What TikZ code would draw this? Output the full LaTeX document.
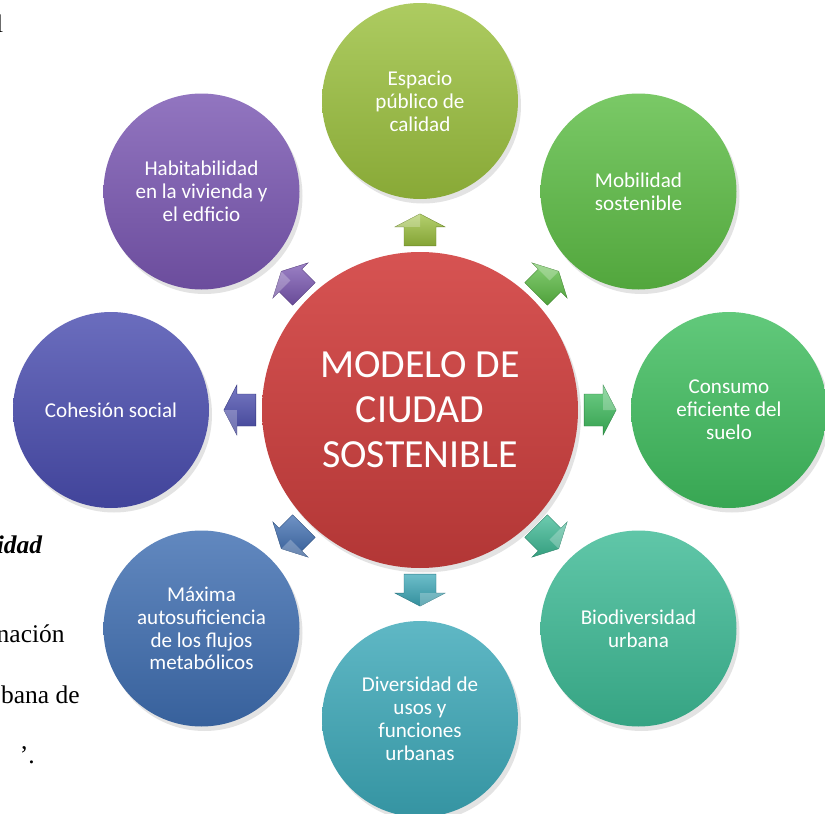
\documentclass[tikz,border=0pt]{standalone}
\usepackage{fontspec}
\setmainfont{Liberation Serif}
\newfontfamily\carlito{Carlito}
\usetikzlibrary{shadows,calc}

\definecolor{rojo}{HTML}{D2403F}
\definecolor{oliva}{HTML}{9BC03E}
\definecolor{verde}{HTML}{5DBD45}
\definecolor{esmeralda}{HTML}{3FBD5E}
\definecolor{turquesa}{HTML}{3DBA95}
\definecolor{cian}{HTML}{3CA8B8}
\definecolor{azul}{HTML}{3F6EB1}
\definecolor{indigo}{HTML}{4A4DAF}
\definecolor{morado}{HTML}{7A57B2}

\tikzset{
  bubble/.style={circle, minimum size=3.92cm, inner sep=0pt, text=white, align=center,
    font=\carlito\fontsize{12}{13}\selectfont,
    top color=#1!82!white, bottom color=#1!88!black,
    drop shadow={opacity=0.22, shadow xshift=0.06cm, shadow yshift=-0.09cm}},
  hub/.style={circle, minimum size=6.32cm, inner sep=0pt, text=white, align=center,
    font=\carlito\fontsize{22.7}{25.6}\selectfont,
    top color=#1!90!white, bottom color=#1!85!black,
    drop shadow={opacity=0.22, shadow xshift=0.06cm, shadow yshift=-0.09cm}},
  margin/.style={anchor=base east, font=\fontsize{14.5}{17}\selectfont, inner sep=0pt},
  pics/flecha/.style={code={
    \path[top color=#1!75!white, bottom color=#1!85!black, draw=#1!70!black, line width=0.2pt]
      (-0.32,-0.32) -- (0.06,-0.32) -- (0.06,-0.5) -- (0.32,0) -- (0.06,0.5)
      -- (0.06,0.32) -- (-0.32,0.32) -- cycle;
    \path[fill=white, fill opacity=0.25] (0.06,0) -- (0.06,0.5) -- (0.32,0) -- cycle;
  }}
}

\begin{document}
\begin{tikzpicture}
  \useasboundingbox[fill=white] (0,0) rectangle (16.5,-16.28);

  \node[margin] (m1) at (0.07,-0.64) {l};
  \node[margin, font=\fontsize{14.5}{17}\selectfont\bfseries\itshape] (m2) at (0.85,-11.06) {idad};
  \node[margin] (m3) at (1.3,-12.84) {nación};
  \node[margin] (m4) at (1.6,-14.06) {bana de};
  \node[margin] (m5) at (0.7,-15.26) {’.};

  \node[bubble=oliva] (espacio) at (8.4,-2.02) {Espacio\\público de\\calidad};
  \node[bubble=verde] (movilidad) at (12.77,-3.83) {Mobilidad\\sostenible};
  \node[bubble=esmeralda] (consumo) at (14.58,-8.2) {Consumo\\eficiente del\\suelo};
  \node[bubble=turquesa] (biodiversidad) at (12.77,-12.57) {Biodiversidad\\urbana};
  \node[bubble=cian] (diversidad) at (8.4,-14.38) {Diversidad de\\usos y\\funciones\\urbanas};
  \node[bubble=azul] (maxima) at (4.03,-12.57) {Máxima\\autosuficiencia\\de los flujos\\metabólicos};
  \node[bubble=indigo] (cohesion) at (2.22,-8.2) {Cohesión social};
  \node[bubble=morado] (habitabilidad) at (4.03,-3.83) {Habitabilidad\\en la vivienda y\\el edficio};

  \node[hub=rojo] (centro) at (8.4,-8.2) {MODELO DE\\CIUDAD\\SOSTENIBLE};

  \pic[rotate=90] at ($(centro)!0.583!(espacio)$) {flecha=oliva};
  \pic[rotate=45] at ($(centro)!0.583!(movilidad)$) {flecha=verde};
  \pic[rotate=0] at ($(centro)!0.583!(consumo)$) {flecha=esmeralda};
  \pic[rotate=-45] at ($(centro)!0.583!(biodiversidad)$) {flecha=turquesa};
  \pic[rotate=-90] at ($(centro)!0.583!(diversidad)$) {flecha=cian};
  \pic[rotate=-135] at ($(centro)!0.583!(maxima)$) {flecha=azul};
  \pic[rotate=180] at ($(centro)!0.583!(cohesion)$) {flecha=indigo};
  \pic[rotate=135] at ($(centro)!0.583!(habitabilidad)$) {flecha=morado};
\end{tikzpicture}
\end{document}
